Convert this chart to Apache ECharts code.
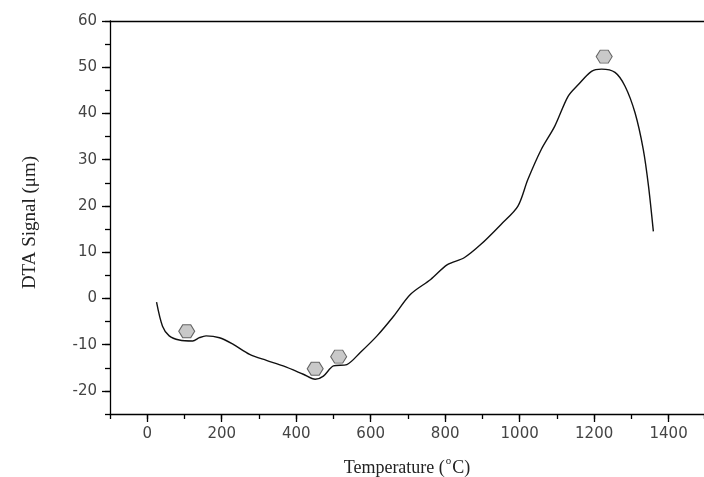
<!DOCTYPE html>
<html>
<head>
<meta charset="utf-8">
<script src="https://cdn.jsdelivr.net/npm/echarts@6/dist/echarts.min.js"></script>
<style>
  html, body { margin: 0; padding: 0; background: #fff; }
  #chart { width: 704px; height: 477px; }
</style>
</head>
<body>
<div id="chart"></div>
<script>
// DTA curve
const temps = [25, 41, 59, 86, 122, 140, 158, 194, 230, 275, 320, 365, 419, 451, 473, 500, 536, 572, 617, 662,
  707, 761, 806, 851, 896, 950, 995, 1022, 1058, 1094, 1130, 1157, 1193, 1220, 1256, 1283, 1310, 1332, 1346, 1359]
const signals = [-0.8, -6.0, -8.1, -9.0, -9.2, -8.5, -8.1, -8.5, -9.9, -12.1, -13.4, -14.6, -16.4, -17.5, -16.8, -14.6, -14.3, -11.7, -8.1, -3.8,
  0.9, 4.1, 7.3, 8.8, 11.7, 16.0, 19.9, 25.7, 32.2, 37.2, 43.7, 46.2, 49.1, 49.6, 48.9, 45.9, 40.1, 32.2, 24.3, 14.5]

// grey hexagon markers
const markerTemps = [106, 451, 514, 1227]
const markerSignals = [-7.1, -15.2, -12.6, 52.3]

const xMin = -100, xMax = 1495
const yMin = -25, yMax = 60

const labelFont = { color: '#444', fontSize: 15, fontFamily: 'DejaVu Sans', formatter: v => String(v) }
const black = { color: '#000', width: 1.3 }

const chart = echarts.init(document.getElementById('chart'))

chart.setOption({
  backgroundColor: '#fff',
  animation: false,
  grid: { left: 110, right: 0, top: 21, bottom: 63, outerBoundsMode: 'none', containLabel: false },
  xAxis: [
    {
      // main axis: labels + long ticks
      type: 'value', position: 'bottom', min: xMin, max: xMax,
      minInterval: 200, maxInterval: 200,
      name: '{n|Temperature (}{s|o}{n|C)}', nameLocation: 'middle', nameGap: 42,
      nameTextStyle: {
        rich: {
          n: { fontSize: 18, fontFamily: 'Liberation Serif', color: '#222' },
          s: { fontSize: 11, fontFamily: 'Liberation Serif', color: '#222', padding: [0, 1, 13, 1] }
        }
      },
      axisLine: { onZero: false, lineStyle: black },
      axisTick: { inside: false, length: 8, lineStyle: black },
      axisLabel: Object.assign({ margin: 13, showMinLabel: false, showMaxLabel: false }, labelFont),
      splitLine: { show: false }
    },
    {
      // minor ticks every 100
      type: 'value', position: 'bottom', min: xMin, max: xMax, interval: 100,
      axisLine: { show: false, onZero: false },
      axisTick: { length: 5, lineStyle: black },
      axisLabel: { show: false },
      splitLine: { show: false }
    },
    {
      // frame line at the top
      type: 'value', position: 'top', min: xMin, max: xMax,
      axisLine: { onZero: false, lineStyle: black },
      axisTick: { show: false }, axisLabel: { show: false }, splitLine: { show: false }
    }
  ],
  yAxis: [
    {
      type: 'value', position: 'left', min: yMin, max: yMax,
      minInterval: 10, maxInterval: 10,
      name: 'DTA Signal (μm)', nameLocation: 'middle', nameGap: 70,
      nameTextStyle: { fontSize: 19, fontFamily: 'Liberation Serif', color: '#222', padding: [0, 10, 0, 0] },
      axisLine: { onZero: false, lineStyle: black },
      axisTick: { length: 8, lineStyle: black },
      axisLabel: Object.assign({ margin: 13, showMinLabel: false }, labelFont),
      splitLine: { show: false }
    },
    {
      type: 'value', position: 'left', min: yMin, max: yMax, interval: 5,
      axisLine: { show: false, onZero: false },
      axisTick: { length: 5, lineStyle: black },
      axisLabel: { show: false },
      splitLine: { show: false }
    }
  ],
  series: [
    {
      type: 'line',
      data: temps.map((t, i) => [t, signals[i]]),
      smooth: 0.3,
      showSymbol: false,
      lineStyle: { color: '#111', width: 1.4 }
    },
    {
      type: 'scatter',
      data: markerTemps.map((t, i) => [t, markerSignals[i]]),
      symbol: 'path://M4,0 L12,0 L16,6 L12,12 L4,12 L0,6 Z',
      symbolSize: [16, 13],
      itemStyle: { color: '#bcbcbc', borderColor: '#444', borderWidth: 1 }
    }
  ]
})
</script>
</body>
</html>
